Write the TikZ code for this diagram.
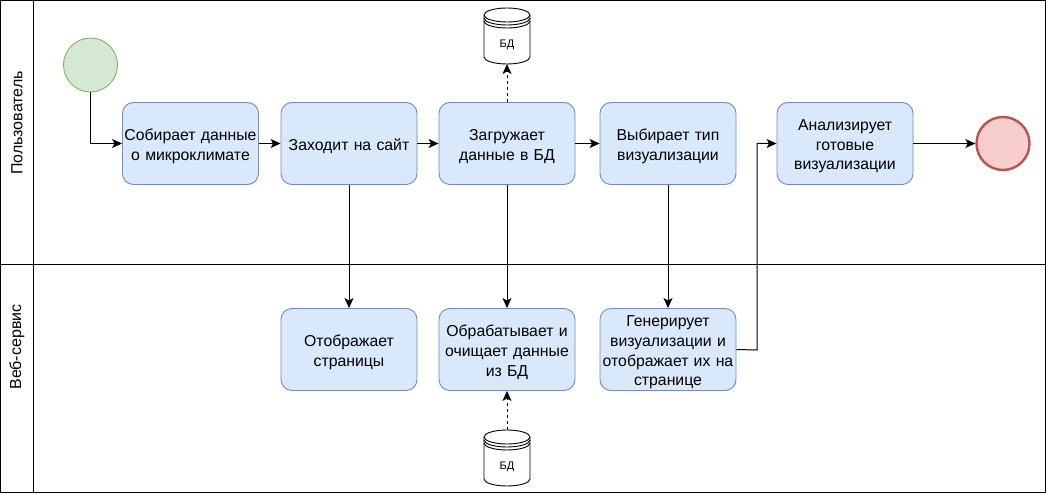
\documentclass[tikz,border=0pt]{standalone}
\usepackage{fontspec}
\setmainfont{Liberation Sans}
\usetikzlibrary{arrows.meta,calc}
\definecolor{boxfill}{HTML}{DAE8FC}
\definecolor{boxline}{HTML}{6C8EBF}
\definecolor{startfill}{HTML}{D5E8D4}
\definecolor{startline}{HTML}{82B366}
\definecolor{endfill}{HTML}{F8CECC}
\definecolor{endline}{HTML}{B85450}
\tikzset{
  x=1pt,y=-1pt,
  lane/.style={draw=black,line width=1pt,fill=white,minimum width=1045pt,inner sep=0pt,outer sep=0pt},
  lanelabel/.style={rotate=90,font=\fontsize{16}{18}\selectfont,inner sep=0pt},
  taskbox/.style={draw=boxline,fill=boxfill,rounded corners=11pt,line width=0.9pt,minimum width=136pt,minimum height=82pt,
    align=center,font=\fontsize{15.8}{19.6}\selectfont,inner sep=0pt,text width=136pt,
    execute at begin node={\rule{0pt}{17pt}}},
  startev/.style={circle,draw=startline,fill=startfill,line width=0.9pt,minimum size=54pt,inner sep=0pt},
  endev/.style={circle,draw=endline,fill=endfill,line width=2.4pt,minimum size=53pt,inner sep=0pt},
  dbnode/.style={minimum width=46pt,minimum height=56pt,inner sep=0pt,outer sep=0pt,font=\fontsize{11}{13}\selectfont},
  dbline/.style={draw=black,line width=0.9pt},
  flow/.style={draw=black,line width=1pt,-{Stealth[length=10pt,width=9pt,inset=2.5pt]}},
  dflow/.style={flow,dash pattern=on 3pt off 3pt},
}
\newcommand{\dbshape}[1]{%
  \path[dbline,fill=white] (#1.north west) ++(0,7)
    arc[start angle=180,end angle=0,x radius=23pt,y radius=7pt]
    -- ($(#1.south east)+(0,-7)$)
    arc[start angle=0,end angle=-180,x radius=23pt,y radius=7pt] -- cycle;
  \path[dbline] (#1.north west) ++(0,7)
    arc[start angle=180,end angle=360,x radius=23pt,y radius=7pt];
  \path[dbline] (#1.north west) ++(0,10)
    arc[start angle=180,end angle=360,x radius=23pt,y radius=7pt];
  \path[dbline] (#1.north west) ++(0,13)
    arc[start angle=180,end angle=360,x radius=23pt,y radius=7pt];
}
\begin{document}
\begin{tikzpicture}
\useasboundingbox (0,0) rectangle (1046,494);
% lanes
\node[lane,minimum height=264pt,anchor=north west] (lane1) at (0.5,0.5) {};
\node[lane,minimum height=228pt,anchor=north west] (lane2) at (0.5,264.5) {};
\draw[black,line width=1pt] (33.5,0.5) -- (33.5,492.5);
\node[lanelabel] (lab1) at (17,123) {Пользователь};
\node[lanelabel] (lab2) at (17,347) {Веб-сервис};
% events
\node[startev] (start) at (90.5,65) {};
\node[endev] (end) at (1003,143.5) {};
% tasks
\node[taskbox] (a) at (190.5,143.5) {Собирает данные\\о микроклимате};
\node[taskbox] (b) at (349,143.5) {Заходит на сайт};
\node[taskbox] (c) at (507,143.5) {Загружает\\данные в БД};
\node[taskbox] (d) at (668,143.5) {Выбирает тип\\визуализации};
\node[taskbox] (e) at (845,143.5) {Анализирует\\готовые\\визуализации};
\node[taskbox] (f) at (349,349.5) {Отображает\\страницы};
\node[taskbox] (g) at (507,349.5) {Обрабатывает и\\очищает данные\\из БД};
\node[taskbox] (h) at (668,349.5) {Генерирует\\визуализации и\\отображает их на\\странице};
% databases
\path (507,36) node[dbnode] (db1) {};
\dbshape{db1}
\node[dbnode] at (507,44.5) (db1t) {БД};
\path (507,458) node[dbnode] (db2) {};
\dbshape{db2}
\node[dbnode] at (507,466.5) (db2t) {БД};
% connectors
\coordinate (bend) at (757,350);
\draw[flow] (start.south) |- (a.west);
\draw[flow] (a) -- (b);
\draw[flow] (b) -- (c);
\draw[flow] (c) -- (d);
\draw[flow] (b) -- (f);
\draw[flow] (c) -- (g);
\draw[flow] (d) -- (h);
\draw[flow] (e) -- (end);
\draw[flow] (h.east) -- (bend) |- (e.west);
\draw[dflow] (c) -- (db1);
\draw[dflow] (db2) -- (g);
\end{tikzpicture}
\end{document}
